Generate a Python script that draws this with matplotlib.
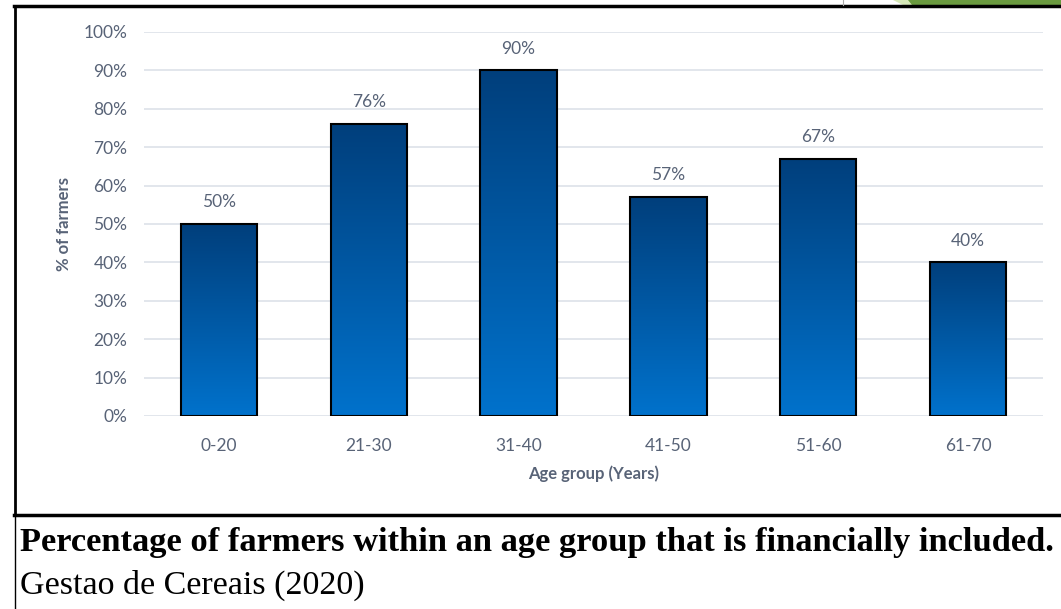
import numpy as np
import matplotlib.pyplot as plt
from matplotlib.patches import Polygon
from matplotlib.lines import Line2D
from matplotlib.colors import LinearSegmentedColormap

# --- data ---
age_groups = ['0-20', '21-30', '31-40', '41-50', '51-60', '61-70']
pct_included = [50, 76, 90, 57, 67, 40]

caption = 'Percentage of farmers within an age group that is financially included.'
source = 'Gestao de Cereais (2020)'

W, H = 1061, 609
fig = plt.figure(figsize=(W / 100, H / 100), dpi=100)
fig.patch.set_facecolor('white')

plt.rcParams['font.family'] = ['Lato', 'DejaVu Sans']
txt_col = '#586377'

# plot area in pixels: x 144..1043, y 32..416
ax = fig.add_axes([144 / W, (H - 416) / H, 899 / W, 384 / H])

x = np.arange(len(age_groups))
bar_w = 0.51
grad = LinearSegmentedColormap.from_list('blues', ['#0072cc', '#003f7c'])
g = np.linspace(0, 1, 256).reshape(-1, 1)

for xi, v in zip(x, pct_included):
    ax.imshow(g, extent=[xi - bar_w / 2, xi + bar_w / 2, 0, v], origin='lower',
              aspect='auto', cmap=grad, zorder=2)
bars = ax.bar(x, pct_included, width=bar_w, facecolor='none',
              edgecolor='black', linewidth=1.5, zorder=3)

for xi, v in zip(x, pct_included):
    ax.text(xi, v + 3.6, f'{v}%', ha='center', va='bottom', fontsize=12.5,
            color=txt_col)

ax.set_xlim(-0.5, len(age_groups) - 0.5)
ax.set_ylim(0, 100)
ax.set_yticks(np.arange(0, 101, 10))
ax.set_yticklabels([f'{t}%' for t in range(0, 101, 10)])
ax.set_xticks(x)
ax.set_xticklabels(age_groups)
ax.tick_params(axis='both', length=0, labelsize=12.5, labelcolor=txt_col)
ax.tick_params(axis='y', pad=12)
ax.tick_params(axis='x', pad=16)
ax.yaxis.grid(True, color='#dde1e9', linewidth=1.2, zorder=0)
ax.set_axisbelow(True)
for s in ax.spines.values():
    s.set_visible(False)

ax.set_xlabel('Age group (Years)', fontsize=12, fontweight='bold',
              color=txt_col, labelpad=8)
ax.set_ylabel('% of farmers', fontsize=12, fontweight='bold',
              color=txt_col, labelpad=8)

# --- frame lines around chart ---
def px(xp, yp):
    return xp / W, 1 - yp / H

fig.add_artist(Line2D([px(14, 0)[0], 1], [px(0, 6)[1]] * 2, color='black', lw=2.5))
fig.add_artist(Line2D([px(15, 0)[0]] * 2, [px(0, 6)[1], px(0, 515)[1]], color='black', lw=2))
fig.add_artist(Line2D([px(15, 0)[0]] * 2, [px(0, 515)[1], 0], color='black', lw=1))
fig.add_artist(Line2D([px(14, 0)[0], 1], [px(0, 515)[1]] * 2, color='black', lw=2.5))

# green shape at top right
fig.add_artist(Polygon([px(893, 0), px(1061, 0), px(1061, 5), px(903, 5)],
                       closed=True, facecolor='#d6e8b8', edgecolor='none'))
fig.add_artist(Polygon([px(908, 0), px(1061, 0), px(1061, 5), px(912, 5)],
                       closed=True, facecolor='#6a9a3f', edgecolor='none'))
fig.add_artist(Line2D([px(843, 0)[0]] * 2, [1, px(0, 5)[1]], color='#aaaaaa', lw=0.8))

# --- caption ---
fig.text(20 / W, 1 - 542 / H, caption, fontsize=24.8, fontweight='bold',
         family=['Liberation Serif', 'DejaVu Serif'], va='center', ha='left')
fig.text(20 / W, 1 - 585 / H, source, fontsize=24.5,
         family=['Liberation Serif', 'DejaVu Serif'], va='center', ha='left')

fig.savefig('out.png', dpi=100)
